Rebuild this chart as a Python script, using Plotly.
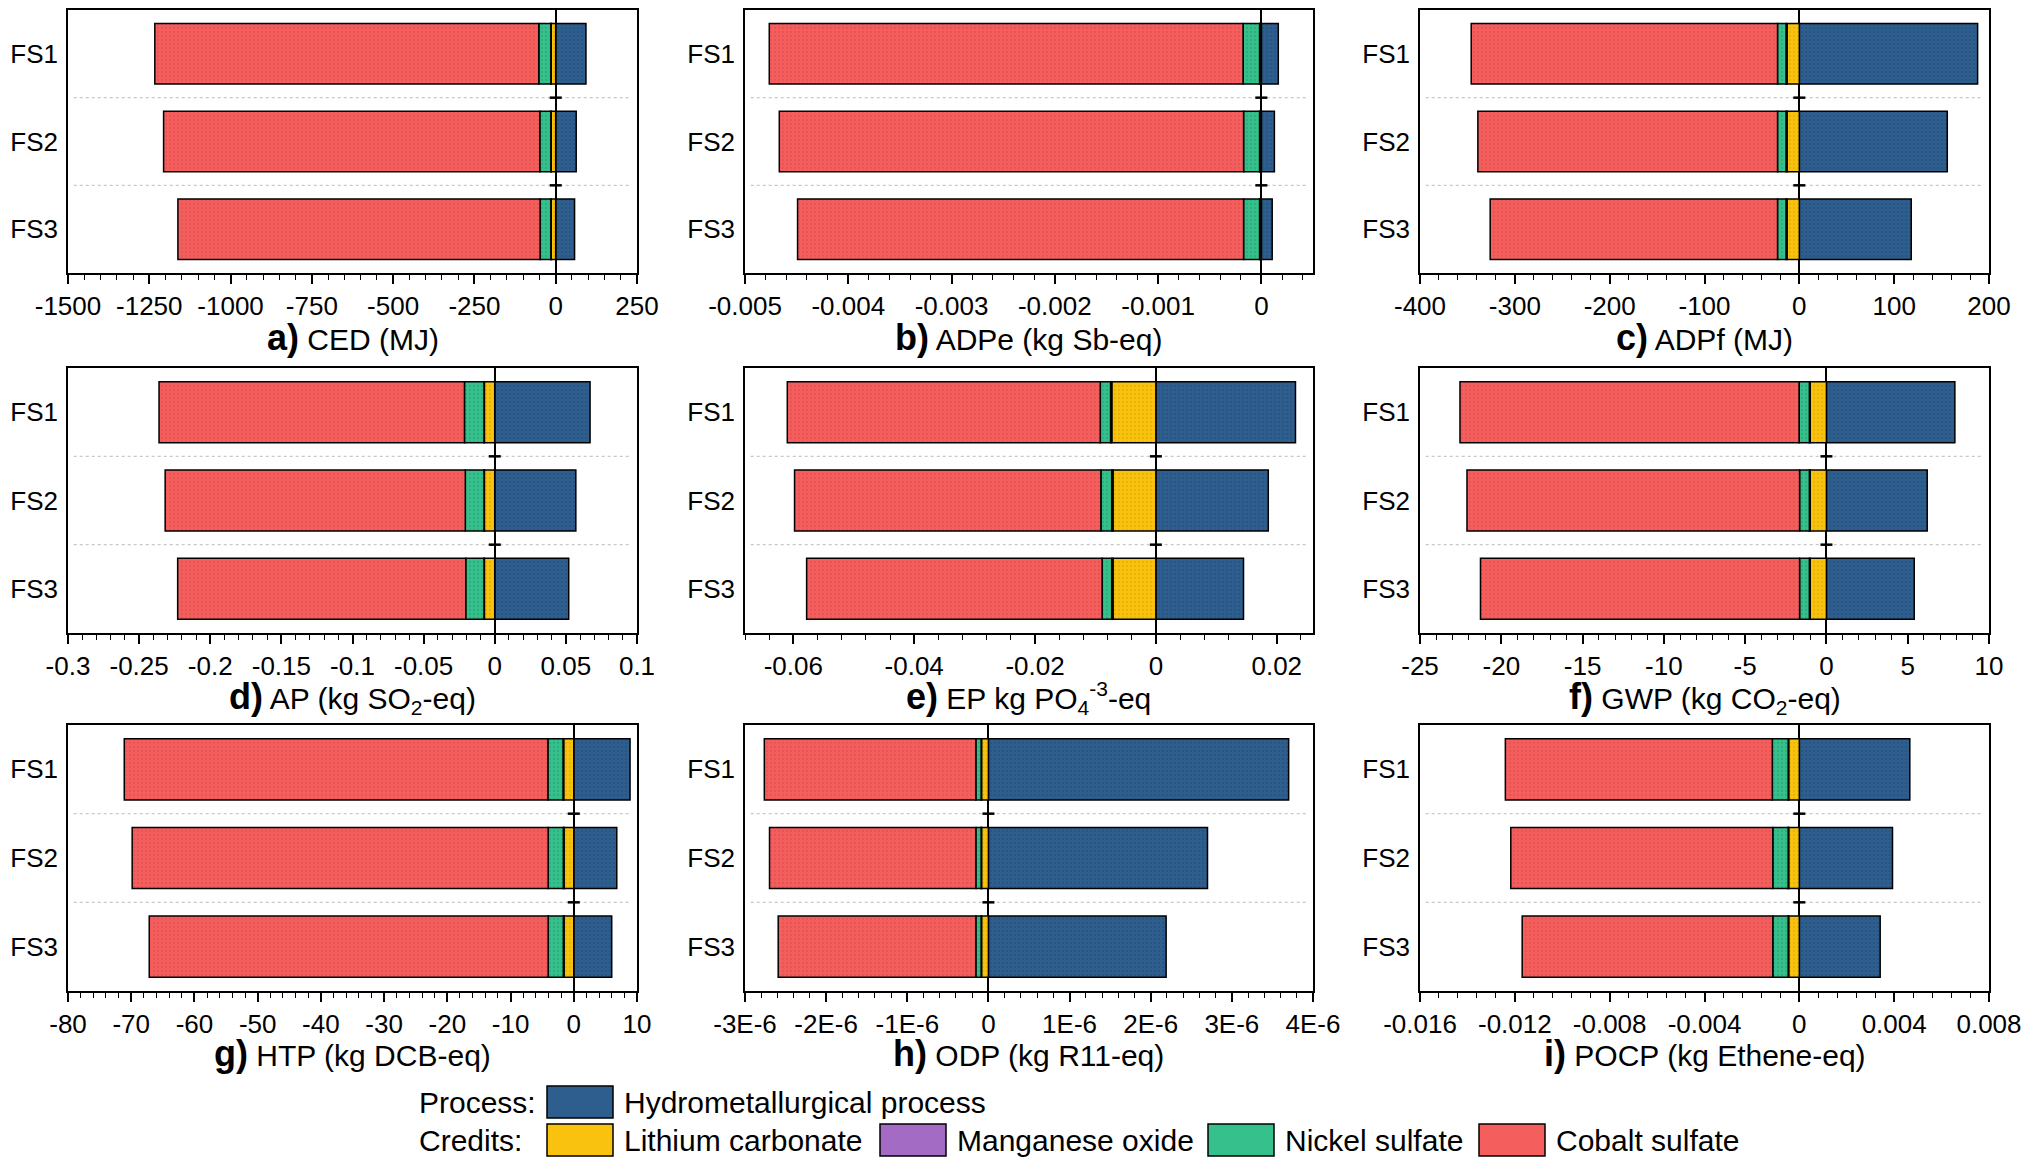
import numpy as np
import plotly.graph_objects as go

#_____ DATA _____

CASES = ["FS1", "FS2", "FS3"]
PROCESSES = ["Hydrometallurgical process", "Lithium carbonate", "Manganese oxide",
             "Nickel sulfate", "Cobalt sulfate"]

# values per process, order FS1, FS2, FS3
CED  = dict(hydro=[93, 63, 58], li=[-14, -14, -14], mn=[-1, -1, -1],
            ni=[-37, -34, -33], co=[-1181, -1157, -1114])
ADPE = dict(hydro=[0.000164, 0.000126, 0.000105], li=[-0.000015, -0.000015, -0.000015],
            mn=[-0.000002, -0.000002, -0.000002], ni=[-0.00016, -0.000155, -0.000155],
            co=[-0.004588, -0.004496, -0.004319])
ADPF = dict(hydro=[188, 156, 118], li=[-13, -13, -13], mn=[-1, -1, -1],
            ni=[-9, -9, -9], co=[-323, -316, -303])
AP   = dict(hydro=[0.067, 0.057, 0.052], li=[-0.0073, -0.0073, -0.0073],
            mn=[-0.0003, -0.0003, -0.0003], ni=[-0.0137, -0.0131, -0.0128],
            co=[-0.2147, -0.211, -0.2025])
EP   = dict(hydro=[0.0231, 0.0186, 0.0145], li=[-0.0073, -0.0071, -0.0071],
            mn=[-0.0002, -0.0002, -0.0002], ni=[-0.0017, -0.0018, -0.0016],
            co=[-0.0518, -0.0507, -0.0489])
GWP  = dict(hydro=[7.9, 6.2, 5.4], li=[-1.0, -1.0, -1.0], mn=[-0.05, -0.05, -0.05],
            ni=[-0.63, -0.6, -0.6], co=[-20.86, -20.46, -19.63])
HTP  = dict(hydro=[8.9, 6.8, 6.0], li=[-1.6, -1.55, -1.55], mn=[-0.1, -0.1, -0.1],
            ni=[-2.4, -2.4, -2.4], co=[-67.0, -65.8, -63.1])
ODP  = dict(hydro=[3.70e-6, 2.70e-6, 2.19e-6], li=[-0.085e-6, -0.085e-6, -0.085e-6],
            mn=[-0.005e-6, -0.005e-6, -0.005e-6], ni=[-0.065e-6, -0.065e-6, -0.065e-6],
            co=[-2.607e-6, -2.543e-6, -2.436e-6])
POCP = dict(hydro=[0.00466, 0.00393, 0.00341], li=[-0.00045, -0.00045, -0.00045],
            mn=[-0.00002, -0.00002, -0.00002], ni=[-0.00067, -0.00065, -0.00065],
            co=[-0.01126, -0.01105, -0.01057])

# tick values / labels per panel
TICKS_CED  = [-1500, -1250, -1000, -750, -500, -250, 0, 250]
LABELS_CED = ["-1500", "-1250", "-1000", "-750", "-500", "-250", "0", "250"]
TICKS_ADPE  = [-0.005, -0.004, -0.003, -0.002, -0.001, 0]
LABELS_ADPE = ["-0.005", "-0.004", "-0.003", "-0.002", "-0.001", "0"]
TICKS_ADPF  = [-400, -300, -200, -100, 0, 100, 200]
LABELS_ADPF = ["-400", "-300", "-200", "-100", "0", "100", "200"]
TICKS_AP  = [-0.3, -0.25, -0.2, -0.15, -0.1, -0.05, 0, 0.05, 0.1]
LABELS_AP = ["-0.3", "-0.25", "-0.2", "-0.15", "-0.1", "-0.05", "0", "0.05", "0.1"]
TICKS_EP  = [-0.06, -0.04, -0.02, 0, 0.02]
LABELS_EP = ["-0.06", "-0.04", "-0.02", "0", "0.02"]
TICKS_GWP  = [-25, -20, -15, -10, -5, 0, 5, 10]
LABELS_GWP = ["-25", "-20", "-15", "-10", "-5", "0", "5", "10"]
TICKS_HTP  = [-80, -70, -60, -50, -40, -30, -20, -10, 0, 10]
LABELS_HTP = ["-80", "-70", "-60", "-50", "-40", "-30", "-20", "-10", "0", "10"]
TICKS_ODP  = [-3e-6, -2e-6, -1e-6, 0, 1e-6, 2e-6, 3e-6, 4e-6]
LABELS_ODP = ["-3E-6", "-2E-6", "-1E-6", "0", "1E-6", "2E-6", "3E-6", "4E-6"]
TICKS_POCP  = [-0.016, -0.012, -0.008, -0.004, 0, 0.004, 0.008]
LABELS_POCP = ["-0.016", "-0.012", "-0.008", "-0.004", "0", "0.004", "0.008"]

#_____ STYLE _____

FONT = "Liberation Sans, Arial, sans-serif"
KEYS = ["hydro", "li", "mn", "ni", "co"]
COLORS = {"hydro": "#2E5E8E", "li": "#F8C20E", "mn": "#A46BC4",
          "ni": "#35C08C", "co": "#F45F5E"}
DOTS = {"hydro": "#234a72", "li": "#d9a500", "mn": "#83509f",
        "ni": "#24996d", "co": "#d94848"}

LBL = "<b><span style='font-size:36px'>%s</span></b> "
# (data, title, range, ticks, labels, minor step)
PANELS = [
    (CED,  LBL % "a)" + "CED (MJ)", [-1500, 250], TICKS_CED, LABELS_CED, 50),
    (ADPE, LBL % "b)" + "ADPe (kg Sb-eq)", [-0.005, 0.0005], TICKS_ADPE, LABELS_ADPE, 0.0002),
    (ADPF, LBL % "c)" + "ADPf (MJ)", [-400, 200], TICKS_ADPF, LABELS_ADPF, 20),
    (AP,   LBL % "d)" + "AP (kg SO<sub>2</sub>-eq)", [-0.3, 0.1], TICKS_AP, LABELS_AP, 0.01),
    (EP,   LBL % "e)" + "EP kg PO<sub>4</sub><sup>-3</sup>-eq", [-0.068, 0.026], TICKS_EP, LABELS_EP, 0.004),
    (GWP,  LBL % "f)" + "GWP (kg CO<sub>2</sub>-eq)", [-25, 10], TICKS_GWP, LABELS_GWP, 1),
    (HTP,  LBL % "g)" + "HTP (kg DCB-eq)", [-80, 10], TICKS_HTP, LABELS_HTP, 2),
    (ODP,  LBL % "h)" + "ODP (kg R11-eq)", [-3e-6, 4e-6], TICKS_ODP, LABELS_ODP, 2e-7),
    (POCP, LBL % "i)" + "POCP (kg Ethene-eq)", [-0.016, 0.008], TICKS_POCP, LABELS_POCP, 0.0008),
]

# page pixels of the reference; the browser body adds an 8px margin
W, H, PAD = 2014, 1152, 8


def px(x):
    return (x - PAD) / W


def py(y):
    return 1 - (y - PAD) / H


COL_PX = [(68, 637), (745, 1313), (1420, 1989)]
ROW_PX = [(10, 273), (368, 633), (725, 991)]
TITLE_PX = [338, 697, 1053]

#_____ FIGURE _____

fig = go.Figure()
shapes = []
annotations = []

for i, (data, title, xrange_, ticks, labels, minor_step) in enumerate(PANELS):
    n = i + 1
    row, col = divmod(i, 3)
    sfx = "" if n == 1 else str(n)

    for key, name in zip(KEYS, PROCESSES):
        fig.add_trace(go.Bar(
            y=CASES, x=data[key], name=name, orientation="h",
            xaxis="x" + sfx, yaxis="y" + sfx, width=0.69,
            marker=dict(color=COLORS[key], line=dict(color="black", width=1.5),
                        pattern=dict(shape=".", fgcolor=DOTS[key], size=4, solidity=0.25)),
            showlegend=False,
        ))

    minor_vals = list(np.arange(xrange_[0], xrange_[1] + minor_step / 2, minor_step))
    fig.layout["xaxis" + sfx] = dict(
        domain=[px(COL_PX[col][0]), px(COL_PX[col][1])], anchor="y" + sfx,
        range=xrange_, automargin=False, ticklabeloverflow="allow",
        tickmode="array", tickvals=ticks, ticktext=labels,
        ticks="outside", ticklen=9, tickwidth=1.5, tickcolor="black",
        minor=dict(tickmode="array", tickvals=minor_vals, ticks="outside",
                   ticklen=5, tickwidth=1.2, tickcolor="black"),
        showline=True, linecolor="black", linewidth=1.5, mirror=True,
        showgrid=False, zeroline=True, zerolinecolor="black", zerolinewidth=1.5,
        tickfont=dict(size=26, color="black"),
    )
    fig.layout["yaxis" + sfx] = dict(
        domain=[py(ROW_PX[row][1]), py(ROW_PX[row][0])], anchor="x" + sfx,
        type="category", automargin=False, ticklabeloverflow="allow",
        range=[2.5, -0.5], showline=True, linecolor="black", linewidth=1.5,
        mirror=True, ticks="", showgrid=False, zeroline=False,
        tickfont=dict(size=26, color="black"), ticklabelstandoff=3,
    )

    # dotted separators between cases + small dash on zero line
    for b in np.arange(0.5, len(CASES) - 1, 1.0):
        shapes.append(dict(type="line", xref="x" + sfx + " domain", yref="y" + sfx,
                           x0=0.01, x1=0.99, y0=b, y1=b,
                           line=dict(color="#c8c8c8", width=1.2, dash="dot"), layer="below"))
        shapes.append(dict(type="line", xref="x" + sfx, yref="y" + sfx,
                           xsizemode="pixel", xanchor=0, x0=-6, x1=6, y0=b, y1=b,
                           line=dict(color="black", width=2.5)))

    annotations.append(dict(
        text=title, xref="paper", yref="paper",
        x=px((COL_PX[col][0] + COL_PX[col][1]) / 2), y=py(TITLE_PX[row]),
        xanchor="center", yanchor="middle", showarrow=False,
        font=dict(size=30, color="black"),
    ))

# manual legend
LEGEND_ROWS = [
    ("Process:", 1102, [("hydro", PROCESSES[0], 547)]),
    ("Credits:", 1140, [("li", PROCESSES[1], 547), ("mn", PROCESSES[2], 880),
                        ("ni", PROCESSES[3], 1208), ("co", PROCESSES[4], 1479)]),
]
for head, yc, items in LEGEND_ROWS:
    annotations.append(dict(text=head, xref="paper", yref="paper", x=px(417), y=py(yc),
                            xanchor="left", yanchor="middle", showarrow=False,
                            font=dict(size=30, color="black")))
    for key, name, bx in items:
        shapes.append(dict(type="rect", xref="paper", yref="paper",
                           x0=px(bx), x1=px(bx + 66), y0=py(yc + 16), y1=py(yc - 16),
                           fillcolor=COLORS[key], line=dict(color="black", width=1.5)))
        annotations.append(dict(text=name, xref="paper", yref="paper", x=px(bx + 75),
                                y=py(yc), xanchor="left", yanchor="middle", showarrow=False,
                                font=dict(size=30, color="black")))

fig.update_layout(
    barmode="relative", bargap=0.31,
    width=W, height=H, margin=dict(l=0, r=0, t=0, b=0, autoexpand=False),
    paper_bgcolor="white", plot_bgcolor="white",
    font=dict(family=FONT, color="black"),
    shapes=shapes, annotations=annotations, showlegend=False,
)

fig.write_html("out.html")
